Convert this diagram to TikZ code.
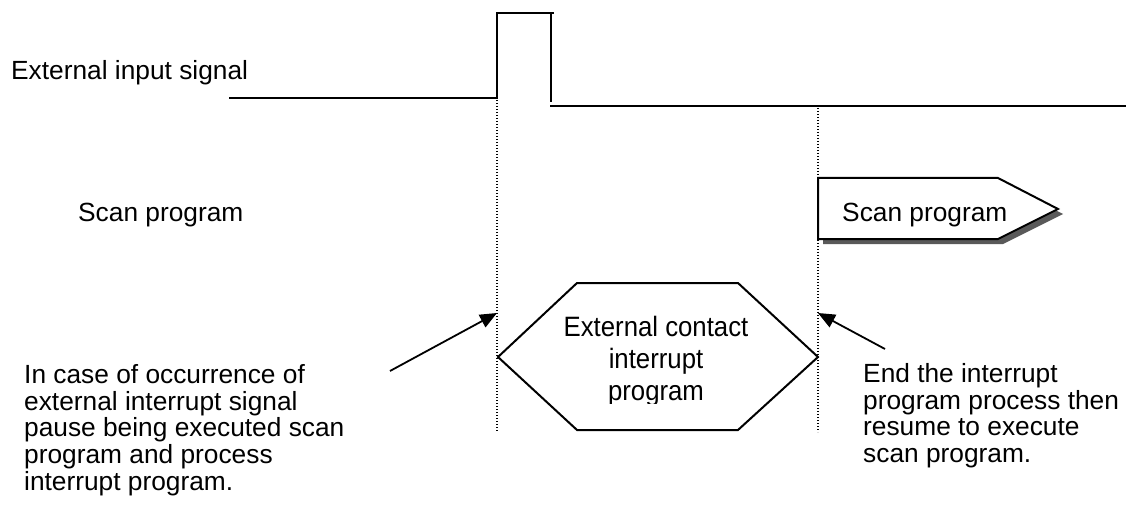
\documentclass[tikz,border=0pt]{standalone}
\usepackage{fontspec}
\setmainfont{Liberation Sans}
\newfontfamily\narrowfont[FakeStretch=0.92]{Liberation Sans}
\usetikzlibrary{arrows.meta}
\tikzset{
  wire/.style={line width=2pt, line cap=rect},
  guide/.style={line width=1.3pt, dash pattern=on 1.3pt off 1.7pt},
  pointer/.style={line width=1.8pt, -{Triangle[length=17pt,width=14pt]}},
  lbl/.style={inner sep=0pt, font=\fontsize{26.3}{26.8}\selectfont},
  outline/.style={line width=2pt, line join=miter},
}
\begin{document}
\begin{tikzpicture}[x=1pt,y=-1pt]
\useasboundingbox (0,0) rectangle (1133,508);
% signal waveform
\coordinate (s0) at (230,98);
\coordinate (s1) at (497,98);
\coordinate (s2) at (497,13);
\coordinate (s3) at (553,13);
\coordinate (s4) at (551,13);
\coordinate (s5) at (551,101);
\coordinate (s6) at (551,106);
\coordinate (s7) at (1125,106);
\draw[wire] (s0) -- (s1) -- (s2) -- (s3);
\draw[wire] (s4) -- (s5);
\draw[wire] (s6) -- (s7);
% guides
\coordinate (gLt) at (497,100);
\coordinate (gLb) at (497,432);
\coordinate (gRt) at (818,108);
\coordinate (gRb) at (818,432);
\draw[guide] (gLt) -- (gLb);
\draw[guide] (gRt) -- (gRb);
% labels
\node[lbl, anchor=base west] (ext) at (11,80) {External input signal};
\node[lbl, anchor=base west] (scanL) at (78,222) {Scan program};
% scan program pentagon arrow with shadow
\fill[gray!70!black] (823,183) -- (1003,183) -- (1063,214) -- (1003,244) -- (823,244) -- cycle;
\draw[outline, fill=white] (818,178) -- (998,178) -- (1058,209) -- (998,239) -- (818,239) -- cycle;
\node[lbl, anchor=base west] (scanR) at (842,222) {Scan program};
% hexagon
\coordinate (hL) at (498,357);
\coordinate (hTL) at (577,283);
\coordinate (hTR) at (738,283);
\coordinate (hR) at (818,357);
\coordinate (hBR) at (738,430);
\coordinate (hBL) at (577,430);
\draw[outline] (hL) -- (hTL) -- (hTR) -- (hR) -- (hBR) -- (hBL) -- cycle;
\begin{scope}
\clip (560,300) rectangle (760,403);
\node[inner sep=0pt, align=center, anchor=north, font=\narrowfont\fontsize{28}{32}\selectfont] (hex) at (656,316) {External contact\\interrupt\\program};
\end{scope}
% annotations
\node[lbl, anchor=north west, align=left] (noteL) at (24,364) {In case of occurrence of\\external interrupt signal\\pause being executed scan\\program and process\\interrupt program.};
\node[lbl, anchor=north west, align=left] (noteR) at (863,363) {End the interrupt\\program process then\\resume to execute\\scan program.};
% pointers
\coordinate (aLs) at (390,371);
\coordinate (aLe) at (497,313);
\coordinate (aRs) at (885,349);
\coordinate (aRe) at (818,313);
\draw[pointer] (aLs) -- (aLe);
\draw[pointer] (aRs) -- (aRe);
\end{tikzpicture}
\end{document}
